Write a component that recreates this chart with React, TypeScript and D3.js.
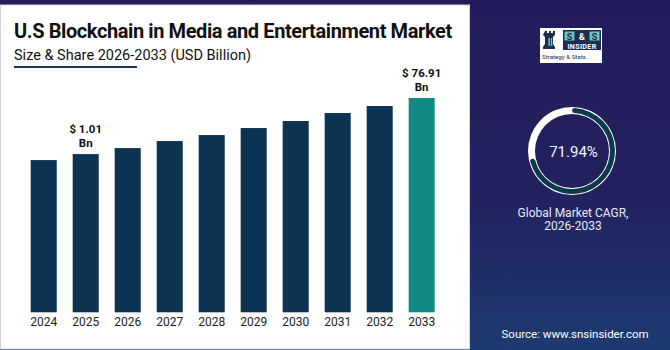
import * as d3 from "d3";

// Bar heights are relative (the chart is stylised; only two bars carry labels)
const years = ["2024", "2025", "2026", "2027", "2028", "2029", "2030", "2031", "2032", "2033"];
const barValues = [152, 158, 164, 171, 177, 184, 191, 199, 206, 214];
const labelledBars = [
  { year: "2025", line1: "$ 1.01", line2: "Bn" },
  { year: "2033", line1: "$ 76.91", line2: "Bn" },
];
const cagr = 71.94;

const W = 670;
const H = 350;
const FONT = "Roboto, 'Noto Sans', Arial, sans-serif";

function Rook({ x, y }: { x: number; y: number }) {
  // small chess-rook glyph for the logo
  return (
    <g transform={`translate(${x},${y})`}>
      <path
        d="M1,0 h2 v2 h2 v-2 h2 v2 h2 v-2 h2 v4 l-2,2 v7 l2,3 v2 h-12 v-2 l2,-3 v-7 l-2,-2 z"
        fill="#1b2e4e"
      />
      <rect x={4.5} y={7} width={1.6} height={8} fill="#6cc3c0" />
      <rect x={7} y={7} width={1.2} height={8} fill="#6cc3c0" />
    </g>
  );
}

export default function App() {
  const x = d3.scaleBand<string>().domain(years).range([30.7, 434.7]).paddingInner(0.38).paddingOuter(0);
  const y = d3.scaleLinear().domain([0, d3.max(barValues)!]).range([312.3, 98]);

  const cx = 572;
  const cy = 151;
  const rOuter = 44;
  const ringArc = d3.arc<any>().innerRadius(rOuter - 7).outerRadius(rOuter);
  const valueArc = d3
    .arc<any>()
    .innerRadius(rOuter - 6)
    .outerRadius(rOuter - 1)
    .cornerRadius(2.5);

  return (
    <div style={{ position: "fixed", left: 0, top: 0, width: W, height: H }}>
      <svg width={W} height={H} style={{ display: "block" }} fontFamily={FONT}>
        <defs>
          <linearGradient id="bg" x1="0" y1="0" x2="0" y2="1">
            <stop offset="0" stopColor="#231c5c" />
            <stop offset="0.55" stopColor="#22215e" />
            <stop offset="1" stopColor="#1d3b70" />
          </linearGradient>
        </defs>
        <rect width={W} height={H} fill="url(#bg)" />

        {/* white chart panel */}
        <rect x={0.5} y={5} width={469} height={344} fill="#ffffff" stroke="#d4d4d8" strokeWidth={1} />

        {/* title */}
        <text x={14} y={38.3} fontSize={20} fontWeight={700} fill="#111111" letterSpacing={-0.4}>
          U.S Blockchain in Media and Entertainment Market
        </text>
        <text x={14} y={59.5} fontSize={14.5} fill="#111111">
          Size &amp; Share 2026-2033 (USD Billion)
        </text>
        <rect x={14} y={66} width={123} height={2} fill="#1d3557" />

        {/* bars */}
        {years.map((yr, i) => (
          <rect
            key={yr}
            x={x(yr)}
            y={y(barValues[i])}
            width={x.bandwidth()}
            height={y(0) - y(barValues[i])}
            fill={yr === "2033" ? "#138a82" : "#0d3353"}
          />
        ))}

        {/* value labels */}
        {labelledBars.map((l) => {
          const i = years.indexOf(l.year);
          const top = y(barValues[i]);
          const mx = x(l.year)! + x.bandwidth() / 2;
          return (
            <g key={l.year} fontSize={11.5} fontWeight={700} fill="#111111" textAnchor="middle">
              <text x={mx} y={top - 21}>{l.line1}</text>
              <text x={mx} y={top - 7.3}>{l.line2}</text>
            </g>
          );
        })}

        {/* x axis labels */}
        {years.map((yr) => (
          <text
            key={yr}
            x={x(yr)! + x.bandwidth() / 2}
            y={325.7}
            fontSize={12}
            fill="#222222"
            textAnchor="middle"
          >
            {yr}
          </text>
        ))}

        {/* logo */}
        <g>
          <rect x={540} y={28} width={62} height={35} fill="#ffffff" />
          <Rook x={544} y={31} />
          <rect x={563} y={30} width={38} height={20} fill="#1b2e4e" />
          <rect x={564.5} y={31.5} width={10} height={9} fill="#6cc3c0" />
          <rect x={589.5} y={31.5} width={10} height={9} fill="#6cc3c0" />
          <text x={569.5} y={39.5} fontSize={9} fontWeight={700} fill="#1b2e4e" textAnchor="middle">S</text>
          <text x={582} y={39.5} fontSize={9} fontWeight={700} fill="#ffffff" textAnchor="middle">&amp;</text>
          <text x={594.5} y={39.5} fontSize={9} fontWeight={700} fill="#1b2e4e" textAnchor="middle">S</text>
          <text x={582} y={48.5} fontSize={7.2} fontWeight={700} fill="#ffffff" textAnchor="middle" letterSpacing={0.3}>
            INSIDER
          </text>
          <text x={542} y={58.5} fontSize={6.2} fill="#1b2e4e">
            Strategy &amp; Stats
          </text>
        </g>

        {/* CAGR donut */}
        <g transform={`translate(${cx},${cy})`}>
          <path d={ringArc({ startAngle: 0, endAngle: 2 * Math.PI })!} fill="#ffffff" />
          <path d={valueArc({ startAngle: 0, endAngle: (cagr / 100) * 2 * Math.PI })!} fill="#0c3a4c" />
          <text x={1.5} y={5.5} fontSize={15} fill="#f2f2ff" textAnchor="middle">
            {cagr.toFixed(2)}%
          </text>
        </g>
        <text x={573} y={216.5} fontSize={12} fill="#e8e8f8" textAnchor="middle">
          Global Market CAGR,
        </text>
        <text x={573} y={230} fontSize={12} fill="#e8e8f8" textAnchor="middle">
          2026-2033
        </text>

        <text x={501.5} y={338} fontSize={11.5} fill="#ffffff">
          Source: www.snsinsider.com
        </text>
      </svg>
    </div>
  );
}
